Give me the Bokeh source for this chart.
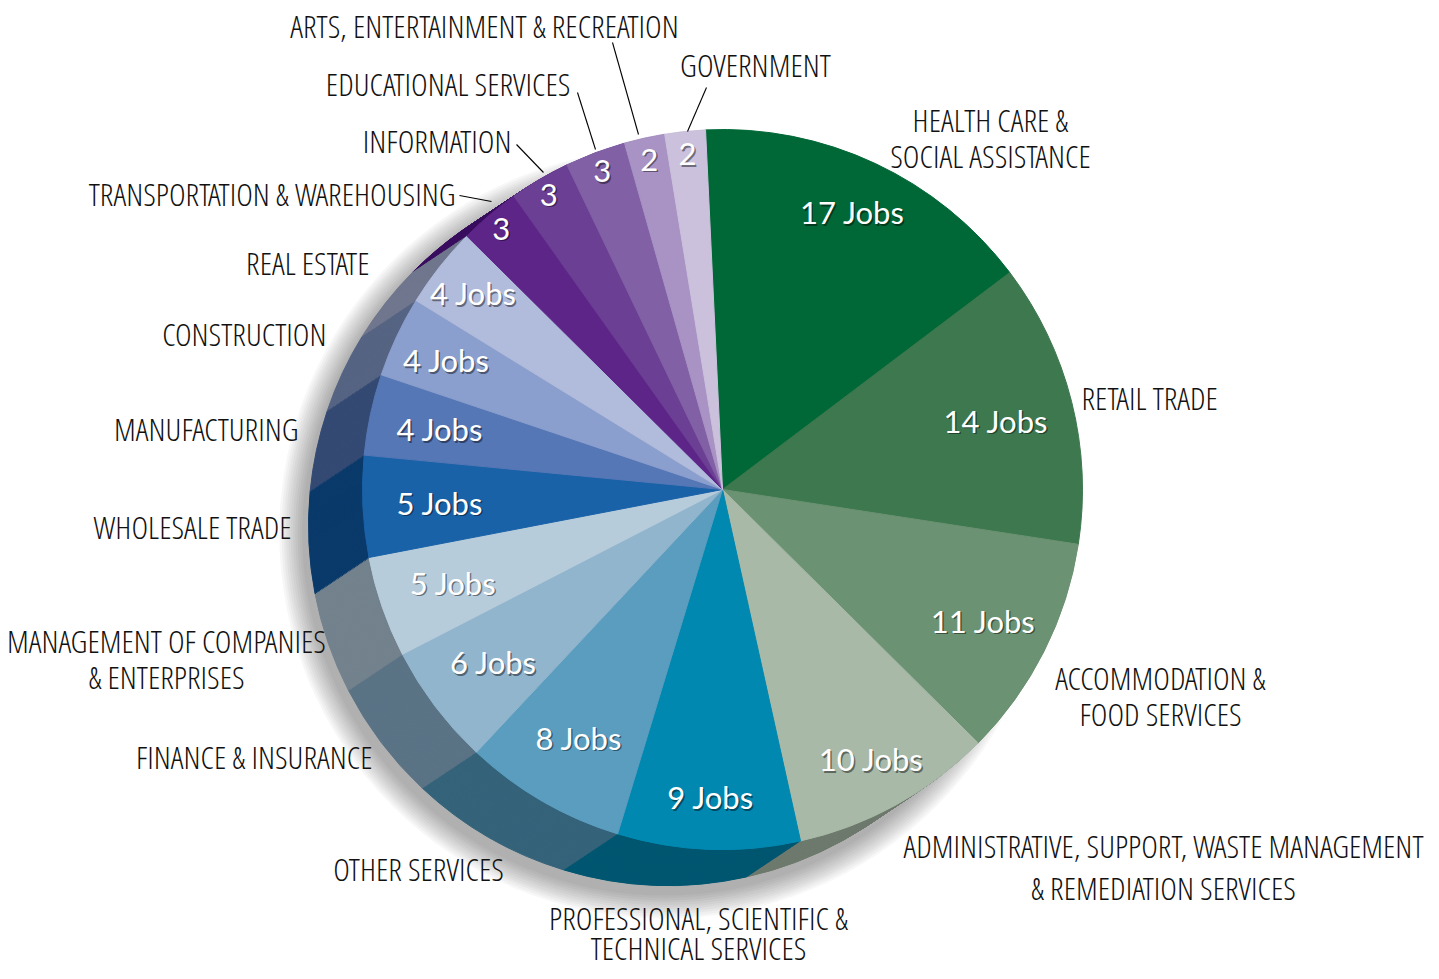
import numpy as np
from bokeh.plotting import figure
from bokeh.models import Range1d, ColumnDataSource
from bokeh.core.properties import value
from bokeh.embed import file_html
from bokeh.resources import INLINE

# ---------------- data ----------------
categories = [
    "HEALTH CARE &\nSOCIAL ASSISTANCE",
    "RETAIL TRADE",
    "ACCOMMODATION &\nFOOD SERVICES",
    "ADMINISTRATIVE, SUPPORT, WASTE MANAGEMENT\n& REMEDIATION SERVICES",
    "PROFESSIONAL, SCIENTIFIC &\nTECHNICAL SERVICES",
    "OTHER SERVICES",
    "FINANCE & INSURANCE",
    "MANAGEMENT OF COMPANIES\n& ENTERPRISES",
    "WHOLESALE TRADE",
    "MANUFACTURING",
    "CONSTRUCTION",
    "REAL ESTATE",
    "TRANSPORTATION & WAREHOUSING",
    "INFORMATION",
    "EDUCATIONAL SERVICES",
    "ARTS, ENTERTAINMENT & RECREATION",
    "GOVERNMENT",
]
jobs = [17, 14, 11, 10, 9, 8, 6, 5, 5, 4, 4, 4, 3, 3, 3, 2, 2]
value_labels = ["17 Jobs", "14 Jobs", "11 Jobs", "10 Jobs", "9 Jobs", "8 Jobs", "6 Jobs",
                "5 Jobs", "5 Jobs", "4 Jobs", "4 Jobs", "4 Jobs", "3", "3", "3", "2", "2"]
colors = ["#006837", "#3d784f", "#6b9272", "#a8b9a8", "#0088b0", "#5a9dbf", "#91b5cd",
          "#b7ccdb", "#1a62a8", "#5577b5", "#8a9fcd", "#b1bbdb", "#5e2589", "#6b3f93",
          "#8160a6", "#a893c4", "#cbc1dc"]
side_colors = ["#00421f", "#264c32", "#445d48", "#6e7a6e", "#005670", "#35637a", "#5a7385",
               "#73828d", "#0a3a6a", "#344a73", "#566483", "#70778e", "#3b0f60", "#432560",
               "#523c6a", "#6b5d7d", "#827a8c"]

# ---------------- layout ----------------
IMG_H = 979
W, H = 1431, 971
def Y(y):
    return IMG_H - y

CX, CY = 722, Y(489)
R = 360
DX, DY = -54, -36           # extrusion offset (data units)
START = -2.7                # degrees clockwise from 12 o'clock
# distance of each value label from the pie centre (px)
label_r = [306, 282, 292, 308, 308, 287, 287, 285, 283, 289, 305, 317, 342, 342, 340, 338, 337]

p = figure(width=W, height=H, x_range=Range1d(0, W), y_range=Range1d(IMG_H - H, IMG_H),
           output_backend="svg", toolbar_location=None, min_border=0,
           x_axis_location=None, y_axis_location=None)
p.grid.visible = False
p.outline_line_color = None
p.background_fill_color = "white"
p.border_fill_color = "white"

total = float(sum(jobs))
cum = np.concatenate([[0.0], np.cumsum(jobs)])
b1 = START + 360.0 * cum[:-1] / total
b2 = START + 360.0 * cum[1:] / total
start_a = np.radians(90.0 - b2)
end_a = np.radians(90.0 - b1)
mid = np.radians((b1 + b2) / 2.0)

# soft shadow
for k in range(1, 12):
    p.circle(x=[CX + DX - 4], y=[CY + DY - 8], radius=R + 2.3 * k,
             fill_color="black", fill_alpha=0.03, line_color=None)

# extruded side (painter's layers, far to near)
N = 40
xs, ys, sa, ea, fc = [], [], [], [], []
for k in range(N, 0, -1):
    t = k / N
    for i in range(len(jobs)):
        xs.append(CX + t * DX); ys.append(CY + t * DY)
        sa.append(start_a[i]); ea.append(end_a[i]); fc.append(side_colors[i])
side_src = ColumnDataSource(dict(x=xs, y=ys, sa=sa, ea=ea, c=fc))
p.wedge(x="x", y="y", radius=R, start_angle="sa", end_angle="ea", source=side_src,
        fill_color="c", line_color="c", line_width=1)

# top face
top_src = ColumnDataSource(dict(x=[CX] * len(jobs), y=[CY] * len(jobs), sa=start_a, ea=end_a, c=colors))
p.wedge(x="x", y="y", radius=R, start_angle="sa", end_angle="ea", source=top_src,
        fill_color="c", line_color="c", line_width=1)

# inner value labels
rr = np.array(label_r, dtype=float)
lx = CX + rr * np.sin(mid)
ly = CY + rr * np.cos(mid)
inner_font = value("Lato")
p.text(x=lx + 1.5, y=ly - 1.5, text=value_labels, text_font=inner_font, text_font_size="31px",
       text_color="black", text_alpha=0.45, text_align="center", text_baseline="middle")
p.text(x=lx, y=ly, text=value_labels, text_font=inner_font, text_font_size="31px",
       text_color="white", text_align="center", text_baseline="middle")

# outer category labels: (anchor x, first line centre y, line gap, align) in image px
label_layout = [
    (990, 119, 36, "center"), (1081, 397, 0, "left"), (1160, 677, 36, "center"),
    (1163, 845, 42, "center"), (698, 917, 30, "center"), (418, 868, 0, "center"),
    (372, 756, 0, "right"), (166, 640, 36, "center"), (291, 526, 0, "right"),
    (298, 428, 0, "right"), (326, 333, 0, "right"), (369, 262, 0, "right"),
    (455, 193, 0, "right"), (511, 140, 0, "right"), (570, 83, 0, "right"),
    (484, 25, 0, "center"), (755, 64, 0, "center"),
]
label_font = value("Open Sans Condensed Light")
for name, (ax, ay, gap, al) in zip(categories, label_layout):
    for j, line in enumerate(name.split("\n")):
        p.text(x=[ax], y=[Y(ay + j * gap)], text=[line], text_font=label_font,
               text_font_size="32px", text_color="#111111", text_align=al,
               text_baseline="middle")

# leader lines (image px)
leaders = [((459, 195), (491, 201)), ((516, 144), (543, 172)), ((577, 92), (595, 149)),
           ((612, 42), (638, 134)), ((706, 87), (687, 131))]
for (x0, y0), (x1, y1) in leaders:
    p.line([x0, x1], [Y(y0), Y(y1)], line_color="black", line_width=1.1)

open("out.html", "w").write(file_html(p, INLINE))
